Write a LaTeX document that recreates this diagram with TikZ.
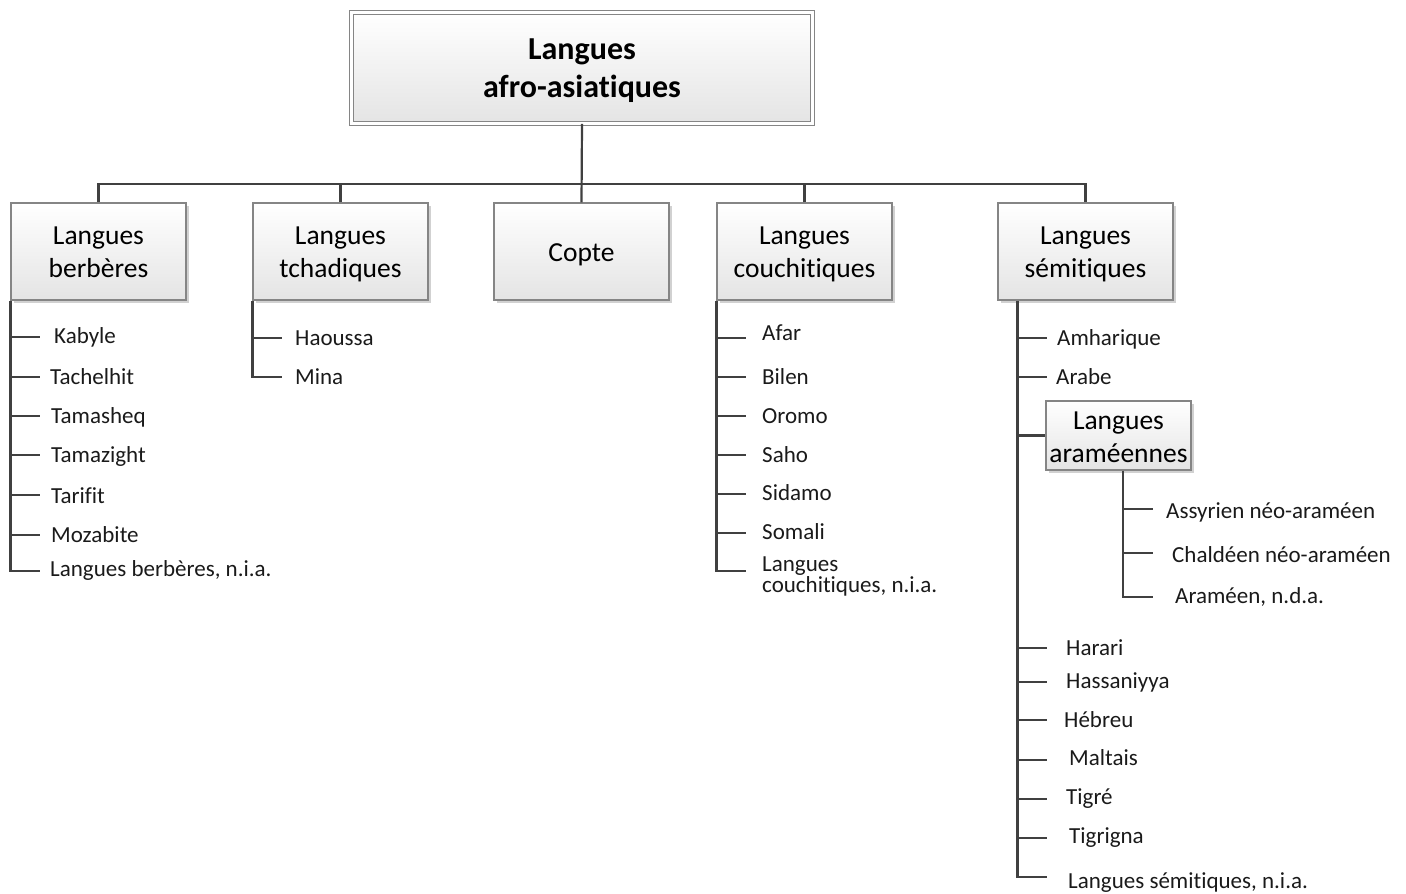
\documentclass[tikz,border=0pt]{standalone}
\usepackage{fontspec}
\setmainfont{Carlito}[Ligatures={CommonOff,ContextualOff}]
\usetikzlibrary{shadows}
\definecolor{linecol}{HTML}{404040}
\definecolor{boxborder}{HTML}{858585}
\definecolor{boxbot}{HTML}{E4E4E4}
\definecolor{txt}{HTML}{1A1A1A}
\newcommand\rootfont{\fontsize{32}{38}\selectfont\bfseries}
\newcommand\boxfont{\fontsize{27.5}{33}\selectfont}
\newcommand\leaffont{\fontsize{23}{21}\selectfont}
\newcommand\tp{\rule{0pt}{24pt}}
\newcommand\bt{\vphantom{gq}}
% #1 trunk coordinate, #2 tick y, #3 text x, #4 text y, #5 name, #6 text
\newcommand\lf[6]{%
  \node[leaf] (#5) at (#3,#4) {#6};
  \coordinate (#5-k) at (0,#2);
  \draw[conn] (#1 |- #5-k) -- ++(30,0);
}
\begin{document}
\begin{tikzpicture}[x=1pt,y=-1pt,
  conn/.style={draw=linecol, line width=2.2pt},
  lbox/.style={draw=boxborder, line width=1.1pt, top color=white, bottom color=boxbot,
     minimum width=175pt, minimum height=97pt, inner sep=0pt, align=center,
     font=\boxfont, text=black,
     drop shadow={shadow xshift=2.5pt, shadow yshift=-2.5pt, fill=black, opacity=0.18}},
  rootbox/.style={draw=boxborder, line width=1.2pt, double=white, double distance=3pt,
     top color=white, bottom color=boxbot,
     minimum width=460.6pt, minimum height=110.6pt, inner sep=0pt, align=center,
     font=\rootfont, text=black,
     drop shadow={shadow xshift=3pt, shadow yshift=-3pt, fill=black, opacity=0.18}},
  leaf/.style={anchor=west, inner sep=0pt, font=\leaffont, text=txt,
     text height=15pt, text depth=0pt},
]
\useasboundingbox (0,0) rectangle (1406,894);

% root and main boxes
\node[rootbox] (root) at (582,68) {\rule{0pt}{27pt}Langues\\afro-asiatiques};
\node[lbox] (ber) at (98.5,251.5) {\tp Langues\\berbères\bt};
\node[lbox] (tch) at (340.5,251.5) {\tp Langues\\tchadiques\bt};
\node[lbox] (cop) at (581.5,251.5) {\tp Copte\bt};
\node[lbox] (cou) at (804.5,251.5) {\tp Langues\\couchitiques\bt};
\node[lbox] (sem) at (1085.5,251.5) {\tp Langues\\sémitiques\bt};
\node[lbox, minimum width=145pt, minimum height=69pt] (ara) at (1118.5,435.5) {\rule{0pt}{25pt}Langues\\araméennes\bt};

% top connectors
\coordinate (bus) at (0,184);
\draw[conn] (root.south) -- (cop.north);
\draw[conn] (ber.north) -- (ber.north |- bus) -- (sem.north |- bus) -- (sem.north);
\draw[conn] (tch.north) -- (tch.north |- bus);
\draw[conn] (cou.north) -- (cou.north |- bus);

% trunks
\coordinate (berT) at (ber.south west);
\coordinate (tchT) at (tch.south west);
\coordinate (couT) at (cou.south west);
\coordinate (semT) at ([xshift=20pt]sem.south west);
\coordinate (araT) at ([xshift=4.5pt]ara.south);

% berberes
\lf{berT}{337}{54}{336}{kab}{Kabyle}
\lf{berT}{377}{50}{377}{tac}{Tachelhit}
\lf{berT}{416}{51}{416}{tam}{Tamasheq}
\lf{berT}{455}{51}{455}{tmz}{Tamazight}
\lf{berT}{495}{51}{496}{tar}{Tarifit}
\lf{berT}{535}{51}{535}{moz}{Mozabite}
\node[leaf] (bnia) at (50,569) {Langues berbères, n.i.a.};
\coordinate (bnia-k) at (0,571);
\draw[conn] (berT) -- (berT |- bnia-k) -- ++(30,0);

% tchadiques
\lf{tchT}{338}{295}{338}{hao}{Haoussa}
\node[leaf] (min) at (295,377) {Mina};
\coordinate (min-k) at (0,377);
\draw[conn] (tchT) -- (tchT |- min-k) -- ++(30,0);

% couchitiques
\lf{couT}{338}{762}{333}{afa}{Afar}
\lf{couT}{377}{762}{377}{bil}{Bilen}
\lf{couT}{416}{762}{416}{oro}{Oromo}
\lf{couT}{455}{762}{455}{sah}{Saho}
\lf{couT}{494}{762}{493}{sid}{Sidamo}
\lf{couT}{533}{762}{532}{som}{Somali}
\node[anchor=north west, inner sep=0pt, font=\leaffont, text=txt, align=left] (cnia) at (762,557) {Langues\\couchitiques, n.i.a.};
\coordinate (cnia-k) at (0,571);
\draw[conn] (couT) -- (couT |- cnia-k) -- ++(30,0);

% semitiques
\lf{semT}{338}{1057}{338}{amh}{Amharique}
\lf{semT}{377}{1056}{377}{ara1}{Arabe}
\coordinate (ara-k) at (0,435.5);
\draw[conn] (semT |- ara-k) -- (ara.west);
\lf{semT}{648}{1066}{648}{har}{Harari}
\lf{semT}{682}{1066}{681}{has}{Hassaniyya}
\lf{semT}{720}{1064}{720}{heb}{Hébreu}
\lf{semT}{760}{1069}{758}{mal}{Maltais}
\lf{semT}{799}{1066}{797}{tig}{Tigré}
\lf{semT}{838}{1069}{836}{tgn}{Tigrigna}
\node[leaf] (snia) at (1068,881) {Langues sémitiques, n.i.a.};
\coordinate (snia-k) at (0,877);
\draw[conn] (semT) -- (semT |- snia-k) -- ++(30,0);

% arameennes
\lf{araT}{509}{1166}{511}{ass}{Assyrien néo-araméen}
\lf{araT}{553}{1172}{555}{cha}{Chaldéen néo-araméen}
\node[leaf] (anda) at (1175,596) {Araméen, n.d.a.};
\coordinate (anda-k) at (0,597);
\draw[conn] (araT) -- (araT |- anda-k) -- ++(30,0);
\end{tikzpicture}
\end{document}
